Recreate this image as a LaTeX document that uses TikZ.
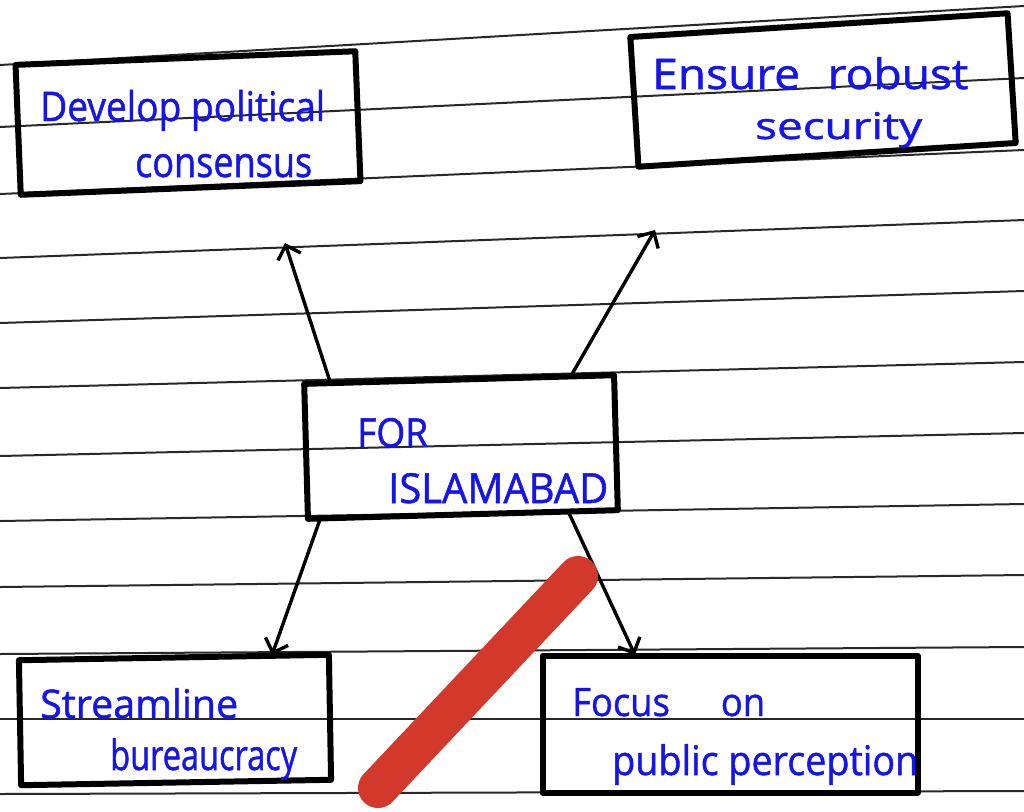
\documentclass[tikz,border=0pt]{standalone}
\usepackage{fontspec}
\setmainfont{Open Sans}
\newfontfamily\handfont{Open Sans}[FakeBold=1.2]
\usetikzlibrary{arrows.meta,calc}
\definecolor{ink}{RGB}{20,20,235}
\definecolor{ruleink}{RGB}{40,40,40}
\definecolor{marker}{RGB}{211,57,42}
\begin{document}
\begin{tikzpicture}[x=1pt,y=-1pt,
  ruleline/.style={draw=ruleink,line width=2pt},
  hbox/.style={draw=black,line width=6pt,line join=round,inner sep=0pt,outer sep=0pt},
  hw/.style={text=ink,anchor=base west,inner sep=0pt,font=\handfont\fontsize{28}{34}\selectfont},
  harrow/.style={draw=black,line width=3.4pt,line cap=round,-{Straight Barb[length=12pt,width=24pt,line width=3.4pt]}}]
\useasboundingbox (0,0) rectangle (1024,811);
\fill[white] (0,0) rectangle (1024,811);
% ruled paper
\foreach \l/\r in {65/6,127/78,194/150,258/220,323/291,388/362,456/433,521/504,587/575,654/647,719/719,794/791}
  \draw[ruleline] (0,\l) -- (1024,\r);
% boxes
\node[hbox,minimum width=340pt,minimum height=130pt,rotate=2.3] (dev) at (188,123) {};
\node[hbox,minimum width=378pt,minimum height=130pt,rotate=3.6] (sec) at (823,90) {};
\node[hbox,minimum width=310pt,minimum height=135pt,rotate=1.6] (isl) at (461,447) {};
\node[hbox,minimum width=310pt,minimum height=125pt,rotate=1] (bur) at (175,720) {};
\node[hbox,minimum width=375pt,minimum height=137pt,rotate=0] (pub) at (730,724) {};
% texts
\node[hw] (devA) at (40,121) {\resizebox{285pt}{31pt}{Develop political}};
\node[hw] (devB) at (135,177) {\resizebox{177pt}{23pt}{consensus}};
\node[hw] (secA) at (652,89) {\resizebox{316pt}{32pt}{Ensure\hspace{0.6em}robust}};
\node[hw] (secB) at (755,139) {\resizebox{167pt}{27pt}{security}};
\node[hw] (islA) at (357,447) {\resizebox{71pt}{29pt}{FOR}};
\node[hw] (islB) at (388,503) {\resizebox{220pt}{30pt}{ISLAMABAD}};
\node[hw] (burA) at (40,718) {\resizebox{198pt}{30pt}{Streamline}};
\node[hw] (burB) at (110,770) {\resizebox{187pt}{32pt}{bureaucracy}};
\node[hw] (pubA) at (572,716) {\resizebox{193pt}{28pt}{Focus\hspace{1.4em}on}};
\node[hw] (pubB) at (612,775) {\resizebox{306pt}{31pt}{public perception}};
% arrow tips
\coordinate (t1) at (285,243);
\coordinate (t2) at (655,230);
\coordinate (t3) at (272,655);
\coordinate (t4) at (635,655);
\draw[harrow] ($(isl.north west)!0.085!(isl.north east)$) -- (t1);
\draw[harrow] ($(isl.north west)!0.86!(isl.north east)$) -- (t2);
\draw[harrow] ($(isl.south west)!0.04!(isl.south east)$) -- (t3);
\draw[harrow] ($(isl.south west)!0.84!(isl.south east)$) -- (t4);
% red marker stroke
\coordinate (m1) at (578,576);
\coordinate (m2) at (378,788);
\draw[marker,line width=40pt,line cap=round] (m1) -- (m2);
\end{tikzpicture}
\end{document}
